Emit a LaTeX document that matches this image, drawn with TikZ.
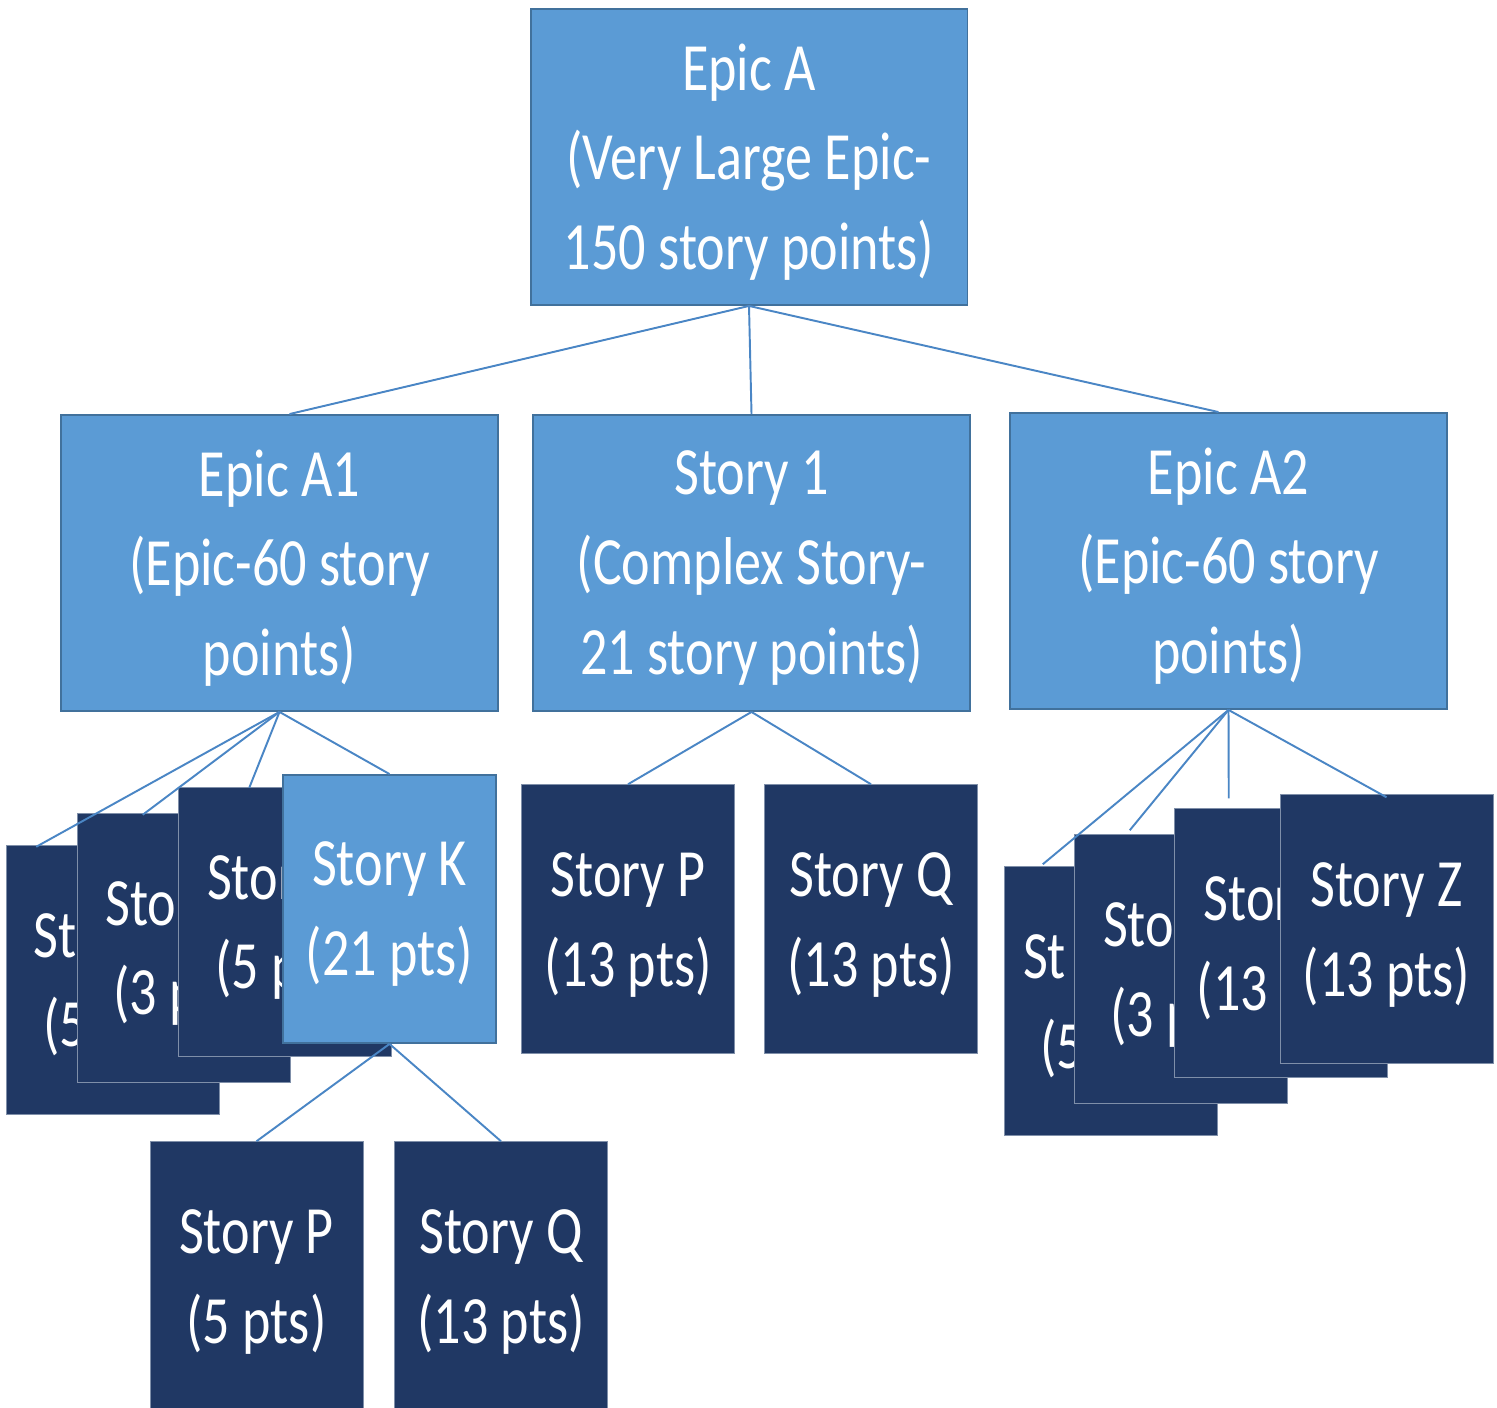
\documentclass[tikz,border=0pt]{standalone}
\usepackage{fontspec}
\setmainfont{Carlito}[FakeStretch=0.8]
\usetikzlibrary{calc}
\definecolor{lblue}{HTML}{5B9BD5}
\definecolor{lborder}{HTML}{41719C}
\definecolor{navy}{HTML}{203864}
\definecolor{navyedge}{HTML}{7F8FA9}
\definecolor{conn}{HTML}{4A86C5}
\newcommand{\vis}[2]{\rlap{#1}\phantom{#2}}
\tikzset{
  txt/.style={text=white, align=center, inner sep=0pt, font=\fontsize{38.5}{51}\selectfont},
  bigbox/.style={rectangle, fill=lblue, draw=lborder, line width=1.1pt, minimum width=8.74cm, minimum height=5.92cm},
  kbox/.style={rectangle, fill=lblue, draw=lborder, line width=1.1pt, minimum width=4.26cm, minimum height=5.36cm},
  darkbox/.style={rectangle, fill=navy, draw=navyedge, line width=0.3pt, minimum width=4.26cm, minimum height=5.38cm},
  conline/.style={draw=conn, line width=1.1pt}
}
\begin{document}
\begin{tikzpicture}[x=0.02cm, y=-0.02cm]
\clip (0,0) rectangle (1497,1408);
\fill[white] (0,0) rectangle (1497,1408);

% level 0 and 1
\node[bigbox] (EA) at (749,157) {};
\node[bigbox] (A1) at (279.5,563) {};
\node[bigbox] (S1) at (751.5,563) {};
\node[bigbox] (A2) at (1228.5,561) {};
\node[txt] (EAt) at ($(EA)+(0,5)$) {Epic A\\(Very Large Epic-\\150 story points)};
\node[txt] (A1t) at ($(A1)+(0,5)$) {Epic A1\\(Epic-60 story\\points)};
\node[txt] (S1t) at ($(S1)+(0,5)$) {Story 1\\(Complex Story-\\21 story points)};
\node[txt] (A2t) at ($(A2)+(0,5)$) {Epic A2\\(Epic-60 story\\points)};

% left stack
\node[darkbox] (L1) at (113,979.5) {};
\begin{scope}\clip (7,845) rectangle (77,1114);
\node[txt] (L1t) at ($(L1)+(0,6)$) {\vis{St}{Story A}\\\vis{(5}{(5 pts)}};
\end{scope}
\node[darkbox] (L2) at (183.5,947.5) {};
\begin{scope}\clip (77,813) rectangle (179,1082);
\node[txt] (L2t) at ($(L2)+(0,6)$) {\vis{Sto}{Story B}\\\vis{(3 p}{(3 pts)}};
\end{scope}
\node[darkbox] (L3) at (285,921.5) {};
\begin{scope}\clip (179,787) rectangle (283,1056);
\node[txt] (L3t) at ($(L3)+(0,6)$) {\vis{Stor}{Story C}\\\vis{(5 p}{(5 pts)}};
\end{scope}
\node[kbox] (K) at (389.5,909) {};
\node[txt] (Kt) at ($(K)+(0,5)$) {Story K\\(21 pts)};

% middle
\node[darkbox] (P) at (628,919) {};
\node[txt] (Pt) at ($(P)+(0,6)$) {Story P\\(13 pts)};
\node[darkbox] (Q) at (871,919) {};
\node[txt] (Qt) at ($(Q)+(0,6)$) {Story Q\\(13 pts)};

% right stack
\node[darkbox] (R1) at (1110.5,1001) {};
\begin{scope}\clip (1004,866) rectangle (1074,1136);
\node[txt] (R1t) at ($(R1)+(0,6)$) {\vis{St}{Story W}\\\vis{(5}{(5 pts)}};
\end{scope}
\node[darkbox] (R2) at (1180.5,969) {};
\begin{scope}\clip (1074,834) rectangle (1174,1104);
\node[txt] (R2t) at ($(R2)+(0,6)$) {\vis{Sto}{Story X}\\\vis{(3 p}{(3 pts)}};
\end{scope}
\node[darkbox] (R3) at (1280.5,943) {};
\begin{scope}\clip (1174,808) rectangle (1280,1078);
\node[txt] (R3t) at ($(R3)+(0,6)$) {\vis{Stor}{Story Y}\\\vis{(13}{(13 pts)}};
\end{scope}
\node[darkbox] (Z) at (1386.5,929) {};
\node[txt] (Zt) at ($(Z)+(0,6)$) {Story Z\\(13 pts)};

% bottom
\node[darkbox] (BP) at (256.5,1276) {};
\node[txt] (BPt) at ($(BP)+(0,6)$) {Story P\\(5 pts)};
\node[darkbox] (BQ) at (501,1276) {};
\node[txt] (BQt) at ($(BQ)+(0,6)$) {Story Q\\(13 pts)};

% connectors
\draw[conline] (EA.south) -- ($(A1.north)+(10,0)$);
\draw[conline] (EA.south) -- (S1.north);
\draw[conline] (EA.south) -- ($(A2.north)+(-10,0)$);

\draw[conline] (A1.south) -- ($(L1.north west)+(30,2)$);
\draw[conline] (A1.south) -- ($(L2.north west)+(66,2)$);
\draw[conline] (A1.south) -- ($(L3.north west)+(71,1)$);
\draw[conline] (A1.south) -- (K.north);

\draw[conline] (S1.south) -- (P.north);
\draw[conline] (S1.south) -- (Q.north);

\draw[conline] (A2.south) -- ($(R1.north west)+(39,-2)$);
\draw[conline] (A2.south) -- ($(R2.north west)+(56,-4)$);
\draw[conline] (A2.south) -- ($(R3.north west)+(55,-10)$);
\draw[conline] (A2.south) -- ($(Z.north)+(0,3)$);

\draw[conline] (K.south) -- (BP.north);
\draw[conline] (K.south) -- (BQ.north);
\end{tikzpicture}
\end{document}
